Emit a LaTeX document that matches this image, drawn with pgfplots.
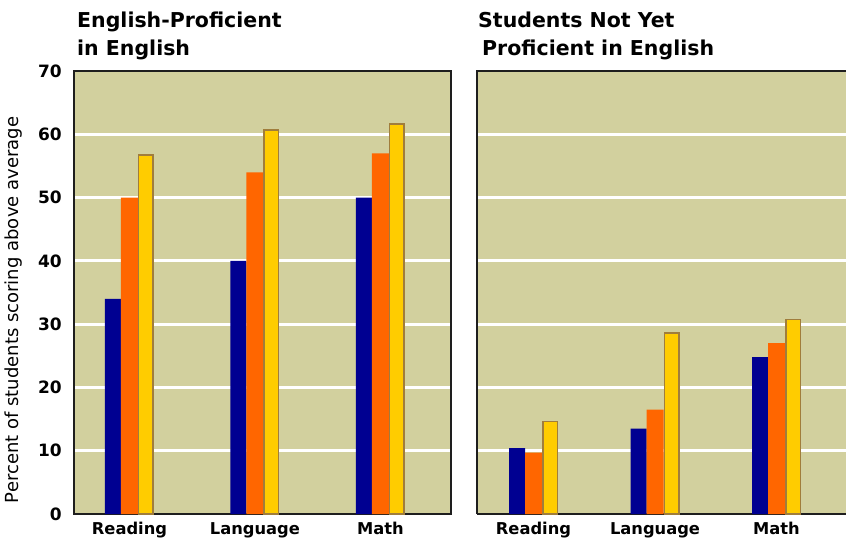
\documentclass[border=0pt]{standalone}
\usepackage{pgfplots}
\pgfplotsset{compat=1.18}
\usepackage{fontspec}
\setmainfont{DejaVu Sans}

\definecolor{khaki}{RGB}{210,208,158}
\definecolor{navyc}{RGB}{0,0,145}
\definecolor{orangec}{RGB}{255,102,0}
\definecolor{goldc}{RGB}{255,204,0}
\definecolor{goldedge}{RGB}{160,125,60}
\definecolor{frame}{RGB}{30,30,30}

% Scores: percent of students scoring above average
\pgfplotstableread{
x  a   b   c
0  34  50  56.7
1  40  54  60.7
2  50  57  61.6
}\proficient
\pgfplotstableread{
x  a     b    c
0  10.4  9.7  14.6
1  13.5  16.5 28.6
2  24.8  27   30.7
}\notyet

\pgfplotsset{
  panel/.style={
    scale only axis,
    height=443pt,
    ymin=0, ymax=70,
    ytick={0,10,...,70},
    minor ytick={10,20,...,60},
    yminorgrids,
    minor grid style={white, line width=3pt},
    major tick length=0pt, minor tick length=0pt,
    /pgf/number format/assume math mode=true,
    xtick={0,1,2},
    xticklabels={Reading,Language,Math},
    xticklabel style={font=\bfseries\fontsize{16.3}{19}\selectfont, inner sep=0pt, yshift=-8pt},
    yticklabel style={font=\bfseries\fontsize{17}{19}\selectfont, inner sep=0pt, xshift=-12pt},
    axis line style={frame, line width=2pt},
    axis background/.style={fill=khaki},
    clip=false,
  },
  barA/.style={ybar, bar width=16pt, bar shift=-16.5pt, fill=navyc, draw=none},
  barB/.style={ybar, bar width=17pt, bar shift=0pt, fill=orangec, draw=none},
  barC/.style={ybar, bar width=14.5pt, bar shift=16.5pt, fill=goldc, draw=goldedge, line width=1.5pt},
}

\begin{document}
\begin{tikzpicture}[x=1pt, y=1pt]
\path[use as bounding box] (0,0) rectangle (846,-541);
\clip (0,0) rectangle (846,-541);

% Left panel
\begin{axis}[panel, at={(74pt,-514pt)}, anchor=south west,
  width=377pt, xmin=-0.442, xmax=2.562]
\addplot[barA] table[x=x, y=a] {\proficient};
\addplot[barB] table[x=x, y=b] {\proficient};
\addplot[barC] table[x=x, y=c] {\proficient};
\end{axis}

% Right panel: runs on past the right edge, framed on three sides
\begin{axis}[panel, at={(477pt,-514pt)}, anchor=south west,
  width=400pt, xmin=-0.465, xmax=2.827, yticklabels={},
  axis lines=left, axis line style={-}]
\addplot[barA] table[x=x, y=a] {\notyet};
\addplot[barB] table[x=x, y=b] {\notyet};
\addplot[barC] table[x=x, y=c] {\notyet};
\draw[frame, line width=2pt, line cap=rect] (rel axis cs:0,1) -- (rel axis cs:1,1);
\end{axis}

% Titles
\node[anchor=base west, inner sep=0pt, font=\bfseries\fontsize{20.5}{24}\selectfont] at (77,-27) {English-Proficient};
\node[anchor=base west, inner sep=0pt, font=\bfseries\fontsize{20.5}{24}\selectfont] at (77,-55) {in English};
\node[anchor=base west, inner sep=0pt, font=\bfseries\fontsize{20.5}{24}\selectfont] at (478,-27) {Students Not Yet};
\node[anchor=base west, inner sep=0pt, font=\bfseries\fontsize{20.5}{24}\selectfont] at (482,-55) {Proficient in English};

% Shared y label
\node[rotate=90, inner sep=0pt, font=\fontsize{18}{21}\selectfont] at (14,-310) {Percent of students scoring above average};
\end{tikzpicture}
\end{document}
